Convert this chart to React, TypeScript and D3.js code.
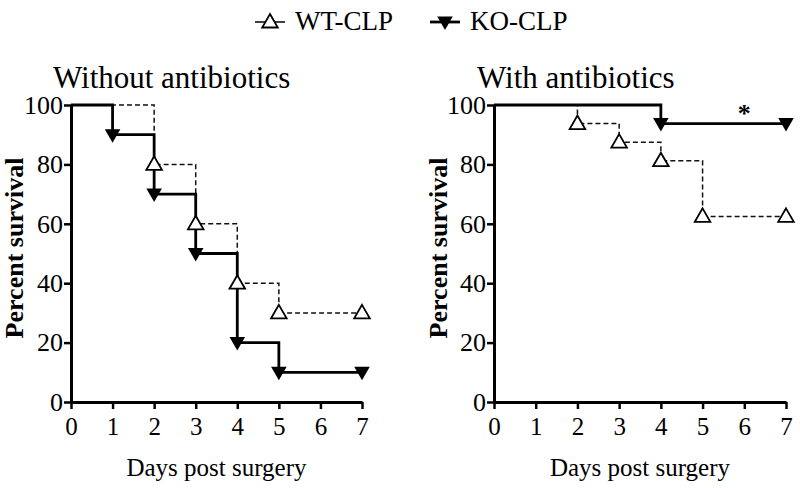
import { useEffect, useRef } from 'react';
import * as d3 from 'd3';

// x / y ticks
const dayTicks = [0, 1, 2, 3, 4, 5, 6, 7];
const survTicks = [0, 20, 40, 60, 80, 100];

// Without antibiotics
const noAbxWtDays = [0, 2, 3, 4, 5, 7];
const noAbxWtSurv = [100, 80, 60, 40, 30, 30];
const noAbxKoDays = [0, 1, 2, 3, 4, 5, 7];
const noAbxKoSurv = [100, 90, 70, 50, 20, 10, 10];

// With antibiotics
const abxWtDays = [0, 2, 3, 4, 5, 7];
const abxWtSurv = [100, 93.75, 87.5, 81.25, 62.5, 62.5];
const abxKoDays = [0, 4, 7];
const abxKoSurv = [100, 93.75, 93.75];

const FONT = '"Liberation Serif", "DejaVu Serif", serif';

const App = () => {
  const svgRef = useRef<SVGSVGElement>(null);

  useEffect(() => {
    const svg = d3.select(svgRef.current);
    svg.selectAll('*').remove();

    const yScale = d3.scaleLinear().domain([0, 100]).range([402, 105]);

    const zip = (xs: number[], ys: number[]) => xs.map((x, i) => ({ x, y: ys[i] }));

    const panels = [
      {
        title: 'Without antibiotics',
        titleX: 53,
        x0: 71,
        x1: 362,
        wt: zip(noAbxWtDays, noAbxWtSurv),
        ko: zip(noAbxKoDays, noAbxKoSurv),
        star: false,
        labelX: 23,
      },
      {
        title: 'With antibiotics',
        titleX: 477,
        x0: 494,
        x1: 786,
        wt: zip(abxWtDays, abxWtSurv),
        ko: zip(abxKoDays, abxKoSurv),
        star: true,
        labelX: 447,
      },
    ];

    const tri = d3.symbol().type(d3.symbolTriangle).size(105);

    panels.forEach(p => {
      const xScale = d3.scaleLinear().domain([0, 7]).range([p.x0, p.x1]);
      const g = svg.append('g');

      const line = d3.line<{ x: number; y: number }>()
        .x(d => xScale(d.x))
        .y(d => yScale(d.y))
        .curve(d3.curveStepAfter);

      // WT dashed
      g.append('path')
        .datum(p.wt)
        .attr('d', line)
        .attr('fill', 'none')
        .attr('stroke', '#111')
        .attr('stroke-width', 1.5)
        .attr('stroke-dasharray', '5,3');

      // KO solid
      g.append('path')
        .datum(p.ko)
        .attr('d', line)
        .attr('fill', 'none')
        .attr('stroke', '#000')
        .attr('stroke-width', 2.8);

      // WT markers (open up-triangles)
      g.selectAll('.wt')
        .data(p.wt.slice(1))
        .join('path')
        .attr('transform', d => `translate(${xScale(d.x)},${yScale(d.y) + 1})`)
        .attr('d', tri)
        .attr('fill', 'white')
        .attr('stroke', '#000')
        .attr('stroke-width', 1.8);

      // KO markers (filled down-triangles)
      g.selectAll('.ko')
        .data(p.ko.slice(1))
        .join('path')
        .attr('transform', d => `translate(${xScale(d.x)},${yScale(d.y) - 1}) rotate(180)`)
        .attr('d', tri)
        .attr('fill', '#000');

      // axes
      g.append('g')
        .attr('transform', `translate(${p.x0},0)`)
        .call(d3.axisLeft(yScale).tickValues(survTicks).tickFormat(d3.format('d')).tickSize(7).tickSizeOuter(0).tickPadding(1))
        .call(a => a.select('.domain').attr('stroke-width', 3))
        .call(a => a.selectAll('.tick line').attr('stroke-width', 2.5))
        .call(a => a.selectAll('text')
          .style('font-family', FONT)
          .style('font-size', '26px')
          .attr('fill', '#000'));

      g.append('g')
        .attr('transform', 'translate(0,402)')
        .call(d3.axisBottom(xScale).tickValues(dayTicks).tickFormat(d3.format('d')).tickSize(7).tickSizeOuter(0).tickPadding(8))
        .call(a => a.select('.domain').attr('stroke-width', 3))
        .call(a => a.selectAll('.tick line').attr('stroke-width', 2.5))
        .call(a => a.selectAll('text')
          .style('font-family', FONT)
          .style('font-size', '25px')
          .attr('fill', '#000'));

      // title
      g.append('text')
        .attr('x', p.titleX)
        .attr('y', 88)
        .style('font-family', FONT)
        .style('font-size', '31px')
        .text(p.title);

      // axis labels
      g.append('text')
        .attr('x', (p.x0 + p.x1) / 2)
        .attr('y', 476)
        .attr('text-anchor', 'middle')
        .style('font-family', FONT)
        .style('font-size', '25px')
        .text('Days post surgery');

      g.append('text')
        .attr('transform', `translate(${p.labelX},248) rotate(-90)`)
        .attr('text-anchor', 'middle')
        .style('font-family', FONT)
        .style('font-size', '26px')
        .style('font-weight', 'bold')
        .text('Percent survival');

      if (p.star) {
        g.append('text')
          .attr('x', xScale(6))
          .attr('y', yScale(93.75) - 2)
          .attr('text-anchor', 'middle')
          .style('font-family', FONT)
          .style('font-size', '26px')
          .style('font-weight', 'bold')
          .text('*');
      }
    });

    // legend
    const legend = svg.append('g');
    const items = [
      { label: 'WT-CLP', x: 255, open: true },
      { label: 'KO-CLP', x: 430, open: false },
    ];
    items.forEach(it => {
      legend.append('line')
        .attr('x1', it.x).attr('x2', it.x + 30)
        .attr('y1', 22).attr('y2', 22)
        .attr('stroke', '#000')
        .attr('stroke-width', it.open ? 1.5 : 2.8);
      legend.append('path')
        .attr('transform', `translate(${it.x + 15},${it.open ? 23 : 21})${it.open ? '' : ' rotate(180)'}`)
        .attr('d', tri)
        .attr('fill', it.open ? 'white' : '#000')
        .attr('stroke', '#000')
        .attr('stroke-width', it.open ? 1.8 : 0);
      legend.append('text')
        .attr('x', it.x + 40)
        .attr('y', 30)
        .style('font-family', FONT)
        .style('font-size', '27px')
        .text(it.label);
    });
  }, []);

  return (
    <svg
      ref={svgRef}
      width={800}
      height={488}
      style={{ position: 'absolute', left: 0, top: 0, background: 'white' }}
    />
  );
};

export default App;
